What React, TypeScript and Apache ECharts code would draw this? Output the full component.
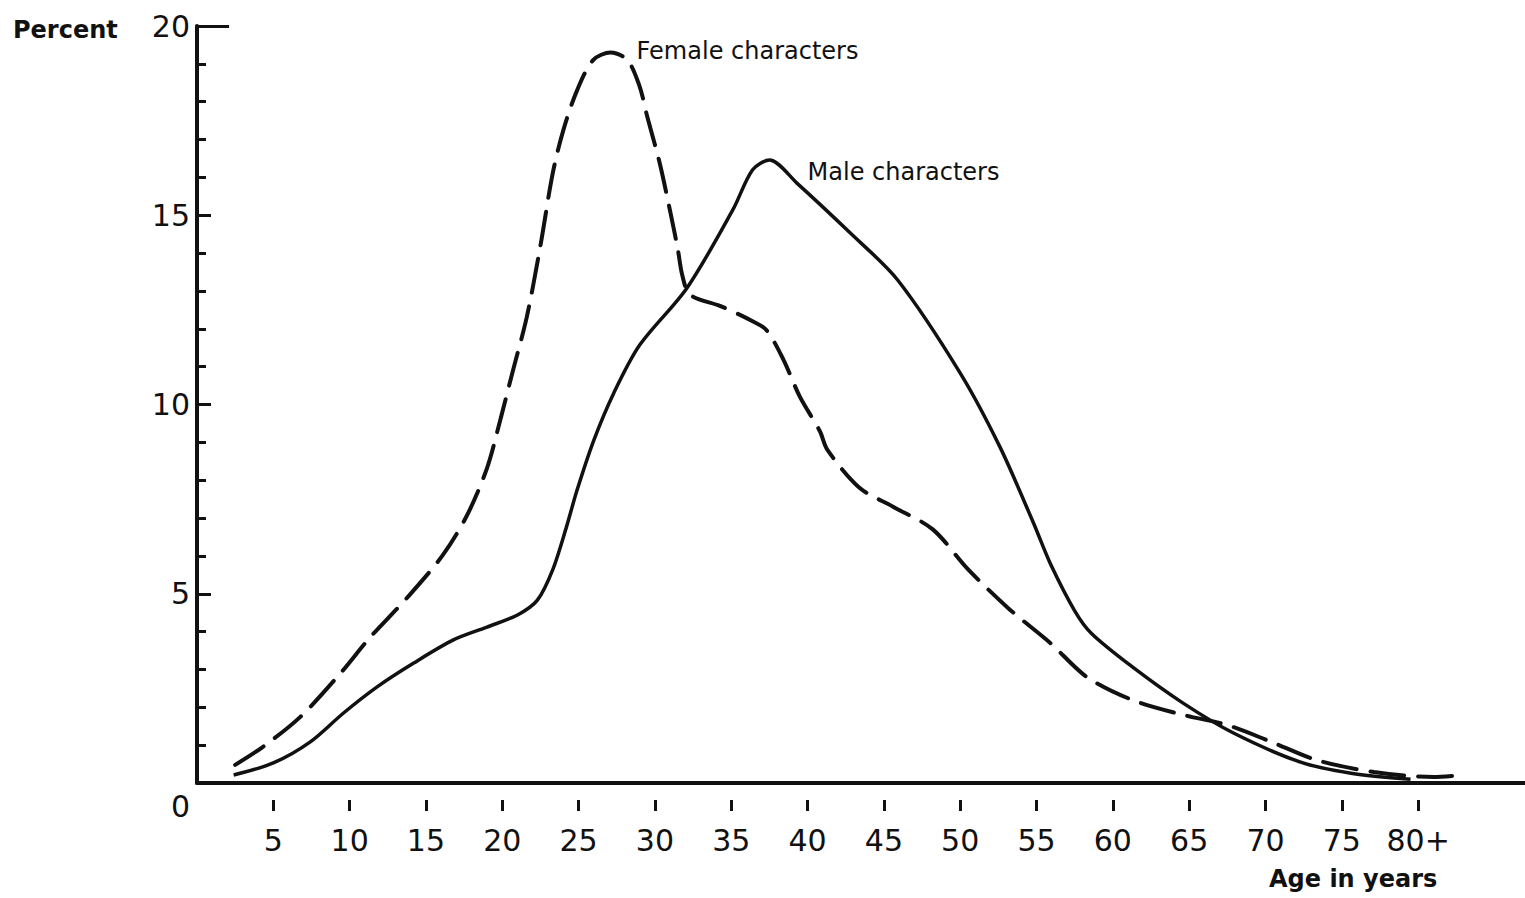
import React, { useEffect, useRef } from "react";
import * as echarts from "echarts";

// Age (years) and percent values
const maleAges = [2.4, 5.0, 7.4, 9.6, 11.8, 14.2, 16.8, 19.0, 21.0, 22.3, 23.3, 24.2, 24.9, 26.0, 27.3, 29.0, 32.1, 35.1, 36.4, 37.5, 39.3, 42.8, 45.9, 50.0, 52.6, 54.8, 55.9, 57.5, 58.6, 61.3, 64.6, 67.9, 72.3, 75.6, 79.5];
const maleValues = [0.21, 0.53, 1.08, 1.85, 2.54, 3.17, 3.78, 4.12, 4.44, 4.83, 5.63, 6.76, 7.74, 9.06, 10.3, 11.57, 13.08, 15.14, 16.2, 16.46, 15.85, 14.53, 13.29, 10.83, 8.88, 6.87, 5.8, 4.55, 3.95, 3.06, 2.11, 1.32, 0.55, 0.26, 0.1];

const femaleAges = [2.5, 4.3, 6.75, 9.4, 11.3, 13.8, 16.1, 17.7, 19.0, 19.9, 20.7, 21.6, 22.5, 23.3, 24.0, 24.9, 25.95, 27.1, 28.2, 29.0, 29.5, 30.3, 31.0, 31.5, 31.8, 32.3, 34.3, 36.4, 37.3, 38.4, 39.5, 40.8, 41.3, 43.4, 45.6, 48.2, 50.5, 53.2, 55.9, 58.3, 61.3, 64.6, 67.5, 70.3, 73.4, 77.1, 81.0, 82.6];
const femaleValues = [0.48, 0.95, 1.74, 2.9, 3.83, 4.91, 6.02, 7.08, 8.32, 9.64, 10.9, 12.3, 14.2, 16.1, 17.25, 18.3, 19.1, 19.3, 19.1, 18.4, 17.6, 16.4, 15.1, 14.1, 13.4, 12.9, 12.6, 12.2, 11.97, 11.2, 10.2, 9.3, 8.8, 7.8, 7.3, 6.7, 5.65, 4.6, 3.7, 2.8, 2.19, 1.8, 1.53, 1.1, 0.6, 0.29, 0.16, 0.2];

const ageTicks = [5, 10, 15, 20, 25, 30, 35, 40, 45, 50, 55, 60, 65, 70, 75, 80];
const ageTickLabels = ["5", "10", "15", "20", "25", "30", "35", "40", "45", "50", "55", "60", "65", "70", "75", "80+"];

const femaleLabel = "Female characters";
const femaleLabelAt = [28.8, 19.34];
const maleLabel = "Male characters";
const maleLabelAt = [40.0, 16.14];

const INK = "#111";
const FONT = '"DejaVu Sans", "Noto Sans", sans-serif';

export default function App() {
  const ref = useRef<HTMLDivElement>(null);

  useEffect(() => {
    const chart = echarts.init(ref.current!, null, { renderer: "svg" });
    const male = maleAges.map((a, i) => [a, maleValues[i]]);
    const female = femaleAges.map((a, i) => [a, femaleValues[i]]);

    const annot = (text: string, at: number[]) => ({
      symbol: "circle",
      symbolSize: 0,
      silent: true,
      data: [
        {
          coord: at,
          label: {
            show: true,
            position: "right",
            distance: 0,
            formatter: text,
            color: INK,
            fontFamily: FONT,
            fontSize: 24,
          },
        },
      ],
    });

    chart.setOption({
      animation: false,
      backgroundColor: "#ffffff",
      title: [
        {
          text: "Percent",
          left: 8,
          top: 13,
          textStyle: { color: INK, fontFamily: FONT, fontSize: 24, fontWeight: "bold" },
        },
        {
          text: "Age in years",
          left: 1264,
          top: 862,
          textStyle: { color: INK, fontFamily: FONT, fontSize: 24, fontWeight: "bold" },
        },
      ],
      grid: { left: 197, right: 0, top: 26, bottom: 115, containLabel: false },
      xAxis: [
        {
          type: "value",
          min: 0,
          max: 87,
          axisLine: { show: true, lineStyle: { color: INK, width: 4 } },
          axisTick: { show: false },
          axisLabel: { show: false },
          splitLine: { show: false },
        },
        {
          type: "value",
          min: 0,
          max: 87,
          position: "bottom",
          offset: 17,
          axisLine: { show: false },
          axisTick: {
            show: true,
            customValues: ageTicks,
            length: 11,
            lineStyle: { color: INK, width: 3 },
          },
          axisLabel: {
            show: true,
            customValues: ageTicks,
            margin: 25,
            color: INK,
            fontFamily: FONT,
            fontSize: 30,
            formatter: (v: number) => {
              const i = ageTicks.indexOf(v);
              return i >= 0 ? ageTickLabels[i] : "";
            },
          },
          splitLine: { show: false },
        },
      ],
      yAxis: {
        type: "value",
        min: 0,
        max: 20,
        interval: 5,
        axisLine: { show: true, lineStyle: { color: INK, width: 4 } },
        axisTick: { show: true, inside: true, length: 14, lineStyle: { color: INK, width: 3 } },
        minorTick: { show: true, splitNumber: 5, length: 9, lineStyle: { color: INK, width: 3 } },
        axisLabel: {
          show: true,
          margin: 7,
          color: INK,
          fontFamily: FONT,
          fontSize: 30,
          lineHeight: 46,
          formatter: (v: number) => (v === 0 ? "\n0" : String(v)),
        },
        splitLine: { show: false },
      },
      series: [
        {
          name: "Male characters",
          type: "line",
          data: male,
          smooth: 0.3,
          showSymbol: false,
          symbol: "none",
          clip: false,
          lineStyle: { color: INK, width: 3.5, type: "solid" },
          markPoint: annot(maleLabel, maleLabelAt),
        },
        {
          name: "Female characters",
          type: "line",
          data: female,
          smooth: 0.3,
          showSymbol: false,
          symbol: "none",
          clip: false,
          lineStyle: { color: INK, width: 4, type: [34, 14], cap: "round" },
          markPoint: annot(femaleLabel, femaleLabelAt),
          markLine: {
            silent: true,
            symbol: ["none", "none"],
            label: { show: false },
            lineStyle: { color: INK, width: 3, type: "solid" },
            data: [[{ coord: [0, 20] }, { coord: [2.1, 20] }]],
          },
        },
      ],
    });

    return () => chart.dispose();
  }, []);

  return (
    <div
      ref={ref}
      style={{ position: "absolute", left: 0, top: 0, width: 1525, height: 898, background: "#fff" }}
    />
  );
}
